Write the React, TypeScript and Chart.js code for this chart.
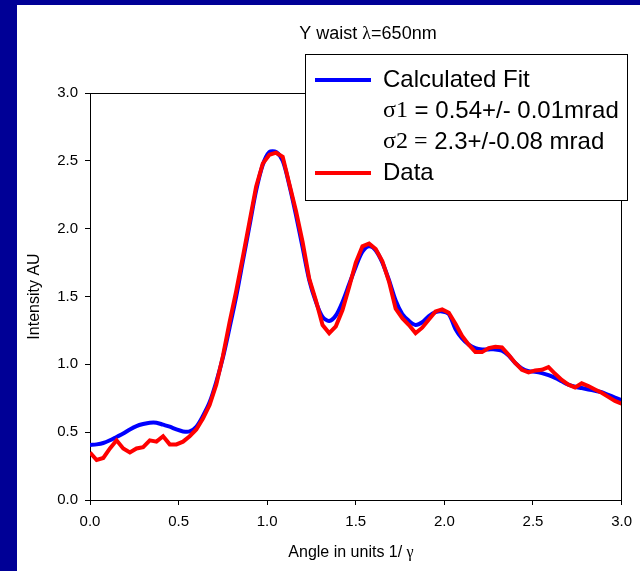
import React, { useEffect, useRef } from "react";
import { Chart, registerables } from "chart.js";

Chart.register(...registerables);

// ---- data ----
const angles = [
  0.0, 0.0375, 0.075, 0.1125, 0.15, 0.1875, 0.225, 0.2625, 0.3, 0.3375,
  0.375, 0.4125, 0.45, 0.4875, 0.525, 0.5625, 0.6, 0.6375, 0.675, 0.7125,
  0.75, 0.7875, 0.825, 0.8625, 0.9, 0.9375, 0.975, 1.0125, 1.05, 1.0875,
  1.125, 1.1625, 1.2, 1.2375, 1.275, 1.3125, 1.35, 1.3875, 1.425, 1.4625,
  1.5, 1.5375, 1.575, 1.6125, 1.65, 1.6875, 1.725, 1.7625, 1.8, 1.8375,
  1.875, 1.9125, 1.95, 1.9875, 2.025, 2.0625, 2.1, 2.1375, 2.175, 2.2125,
  2.25, 2.2875, 2.325, 2.3625, 2.4, 2.4375, 2.475, 2.5125, 2.55, 2.5875,
  2.625, 2.6625, 2.7, 2.7375, 2.775, 2.8125, 2.85, 2.8875, 2.925, 2.9625,
  3.0,
];

const fitValues = [
  0.405, 0.41, 0.42, 0.44, 0.465, 0.49, 0.52, 0.545, 0.56, 0.57,
  0.57, 0.555, 0.54, 0.52, 0.505, 0.505, 0.54, 0.62, 0.72, 0.87,
  1.05, 1.27, 1.5, 1.76, 2.02, 2.28, 2.47, 2.565, 2.565, 2.5,
  2.32, 2.1, 1.86, 1.62, 1.46, 1.35, 1.32, 1.36, 1.46, 1.59,
  1.72, 1.83, 1.87, 1.84, 1.75, 1.62, 1.47, 1.37, 1.32, 1.29,
  1.31, 1.355, 1.385, 1.39, 1.37, 1.26, 1.19, 1.145, 1.12, 1.11,
  1.11, 1.11, 1.1, 1.065, 1.01, 0.97, 0.95, 0.945, 0.935, 0.92,
  0.9, 0.875, 0.85, 0.835, 0.825, 0.815, 0.805, 0.795, 0.775, 0.755,
  0.735,
];

const dataValues = [
  0.35, 0.295, 0.31, 0.38, 0.44, 0.38, 0.35, 0.38, 0.39, 0.44,
  0.43, 0.47, 0.41, 0.41, 0.43, 0.47, 0.52, 0.6, 0.7, 0.85,
  1.06, 1.31, 1.54, 1.79, 2.05, 2.31, 2.48, 2.545, 2.56, 2.53,
  2.33, 2.13, 1.9, 1.63, 1.47, 1.29, 1.23, 1.28, 1.4, 1.57,
  1.75, 1.87, 1.89, 1.85, 1.76, 1.61, 1.41, 1.34, 1.29, 1.23,
  1.27, 1.33, 1.39, 1.405, 1.38, 1.3, 1.21, 1.145, 1.09, 1.09,
  1.12, 1.13, 1.125, 1.07, 1.01, 0.96, 0.94, 0.955, 0.96, 0.98,
  0.93, 0.885, 0.85, 0.83, 0.86, 0.84, 0.815, 0.79, 0.76, 0.73,
  0.71,
];

const xTickValues = [0, 0.5, 1.0, 1.5, 2.0, 2.5, 3.0];
const yTickValues = [0, 0.5, 1.0, 1.5, 2.0, 2.5, 3.0];

const seriesNames = ["Calculated Fit", "Data"];
const sigma1Text = ["σ1", " = 0.54+/- 0.01mrad"];
const sigma2Text = ["σ2 =", " 2.3+/-0.08 mrad"];
const titleText = ["Y waist ", "λ", "=650nm"];
const xTitleText = ["Angle in units 1/ ", "γ"];
const yTitleText = "Intensity AU";

const SANS = "'Liberation Sans', Arial, Helvetica, sans-serif";
const SERIF = "'Liberation Serif', 'Times New Roman', serif";

type Run = [string, string];

function drawRuns(ctx: CanvasRenderingContext2D, x: number, y: number, runs: Run[], align: "left" | "center") {
  let total = 0;
  for (const [t, f] of runs) {
    ctx.font = f;
    total += ctx.measureText(t).width;
  }
  let cx = align === "center" ? x - total / 2 : x;
  ctx.textAlign = "left";
  for (const [t, f] of runs) {
    ctx.font = f;
    ctx.fillText(t, cx, y);
    cx += ctx.measureText(t).width;
  }
}

const decorPlugin = {
  id: "decor",
  beforeDraw(chart: any) {
    const ctx = chart.ctx as CanvasRenderingContext2D;
    ctx.save();
    ctx.fillStyle = "#ffffff";
    ctx.fillRect(0, 0, chart.width, chart.height);
    ctx.fillStyle = "#000096";
    ctx.fillRect(0, 0, 17, chart.height);
    ctx.fillRect(0, 0, chart.width, 5);
    ctx.restore();
  },
  afterDraw(chart: any) {
    const ctx = chart.ctx as CanvasRenderingContext2D;
    const a = chart.chartArea;
    ctx.save();
    // top & right frame
    ctx.strokeStyle = "#000";
    ctx.lineWidth = 1;
    ctx.beginPath();
    ctx.moveTo(Math.round(a.left) + 0.5, Math.round(a.top) + 0.5);
    ctx.lineTo(Math.round(a.right) - 0.5, Math.round(a.top) + 0.5);
    ctx.lineTo(Math.round(a.right) - 0.5, Math.round(a.bottom));
    ctx.stroke();

    // legend box
    const lx = 305, ly = 54, lw = 322, lh = 146;
    ctx.fillStyle = "#fff";
    ctx.fillRect(lx, ly, lw, lh);
    ctx.strokeStyle = "#000";
    ctx.strokeRect(lx + 0.5, ly + 0.5, lw, lh);

    const rowY = [80, 111, 142, 173];
    ctx.lineWidth = 4;
    ctx.lineCap = "butt";
    ctx.strokeStyle = "#0000ff";
    ctx.beginPath();
    ctx.moveTo(315, rowY[0]);
    ctx.lineTo(371, rowY[0]);
    ctx.stroke();
    ctx.strokeStyle = "#ff0000";
    ctx.beginPath();
    ctx.moveTo(315, rowY[3]);
    ctx.lineTo(371, rowY[3]);
    ctx.stroke();

    ctx.fillStyle = "#000";
    ctx.textBaseline = "middle";
    const lf = `24px ${SANS}`;
    const lfs = `24px ${SERIF}`;
    const tx = 383;
    drawRuns(ctx, tx, rowY[0], [[seriesNames[0], lf]], "left");
    drawRuns(ctx, tx, rowY[1], [[sigma1Text[0], lfs], [sigma1Text[1], lf]], "left");
    drawRuns(ctx, tx, rowY[2], [[sigma2Text[0], lfs], [sigma2Text[1], lf]], "left");
    drawRuns(ctx, tx, rowY[3], [[seriesNames[1], lf]], "left");

    // chart title
    drawRuns(ctx, 368, 34, [[titleText[0], `18px ${SANS}`], [titleText[1], `18px ${SERIF}`], [titleText[2], `18px ${SANS}`]], "center");

    // x axis title
    drawRuns(ctx, 351, 553, [[xTitleText[0], `16px ${SANS}`], [xTitleText[1], `16px ${SERIF}`]], "center");

    // y axis title
    ctx.translate(35, (a.top + a.bottom) / 2);
    ctx.rotate(-Math.PI / 2);
    drawRuns(ctx, 0, 0, [[yTitleText, `16px ${SANS}`]], "center");
    ctx.restore();
  },
};

export default function App() {
  const ref = useRef<HTMLCanvasElement | null>(null);

  useEffect(() => {
    if (!ref.current) return;
    const fitPts = angles.map((x, i) => ({ x, y: fitValues[i] }));
    const dataPts = angles.map((x, i) => ({ x, y: dataValues[i] }));
    const tickFont = { family: SANS, size: 15 };
    const chart = new Chart(ref.current, {
      type: "line",
      data: {
        datasets: [
          {
            label: seriesNames[0],
            data: fitPts,
            borderColor: "#0000ff",
            backgroundColor: "#0000ff",
            borderWidth: 4,
            pointRadius: 0,
            tension: 0.3,
            fill: false,
            order: 2,
          },
          {
            label: seriesNames[1],
            data: dataPts,
            borderColor: "#ff0000",
            backgroundColor: "#ff0000",
            borderWidth: 4,
            pointRadius: 0,
            tension: 0,
            fill: false,
            order: 1,
          },
        ],
      },
      options: {
        responsive: false,
        animation: false,
        devicePixelRatio: 1,
        layout: { padding: { left: 0, top: 93, right: 13, bottom: 0 } },
        plugins: {
          legend: { display: false },
          title: { display: false },
          tooltip: { enabled: false },
        },
        scales: {
          x: {
            type: "linear",
            min: 0,
            max: 3,
            afterFit: (s: any) => {
              s.height = 71;
            },
            afterBuildTicks: (s: any) => {
              s.ticks = xTickValues.map((v) => ({ value: v }));
            },
            ticks: {
              color: "#000",
              font: tickFont,
              padding: 8,
              maxRotation: 0,
              autoSkip: false,
              callback: (v: any) => Number(v).toFixed(1),
            },
            grid: {
              display: true,
              drawOnChartArea: false,
              drawTicks: true,
              tickLength: 5,
              color: "#000",
            },
            border: { display: true, color: "#000", width: 1 },
          },
          y: {
            type: "linear",
            min: 0,
            max: 3,
            afterFit: (s: any) => {
              s.width = 90;
            },
            afterBuildTicks: (s: any) => {
              s.ticks = yTickValues.map((v) => ({ value: v }));
            },
            ticks: {
              color: "#000",
              font: tickFont,
              padding: 7,
              autoSkip: false,
              callback: (v: any) => Number(v).toFixed(1),
            },
            grid: {
              display: true,
              drawOnChartArea: false,
              drawTicks: true,
              tickLength: 5,
              color: "#000",
            },
            border: { display: true, color: "#000", width: 1 },
          },
        },
      },
      plugins: [decorPlugin],
    } as any);
    return () => chart.destroy();
  }, []);

  return (
    <div style={{ position: "absolute", left: 0, top: 0, width: 640, height: 571, background: "#fff" }}>
      <canvas ref={ref} width={640} height={571} style={{ display: "block", width: 640, height: 571 }} />
    </div>
  );
}
